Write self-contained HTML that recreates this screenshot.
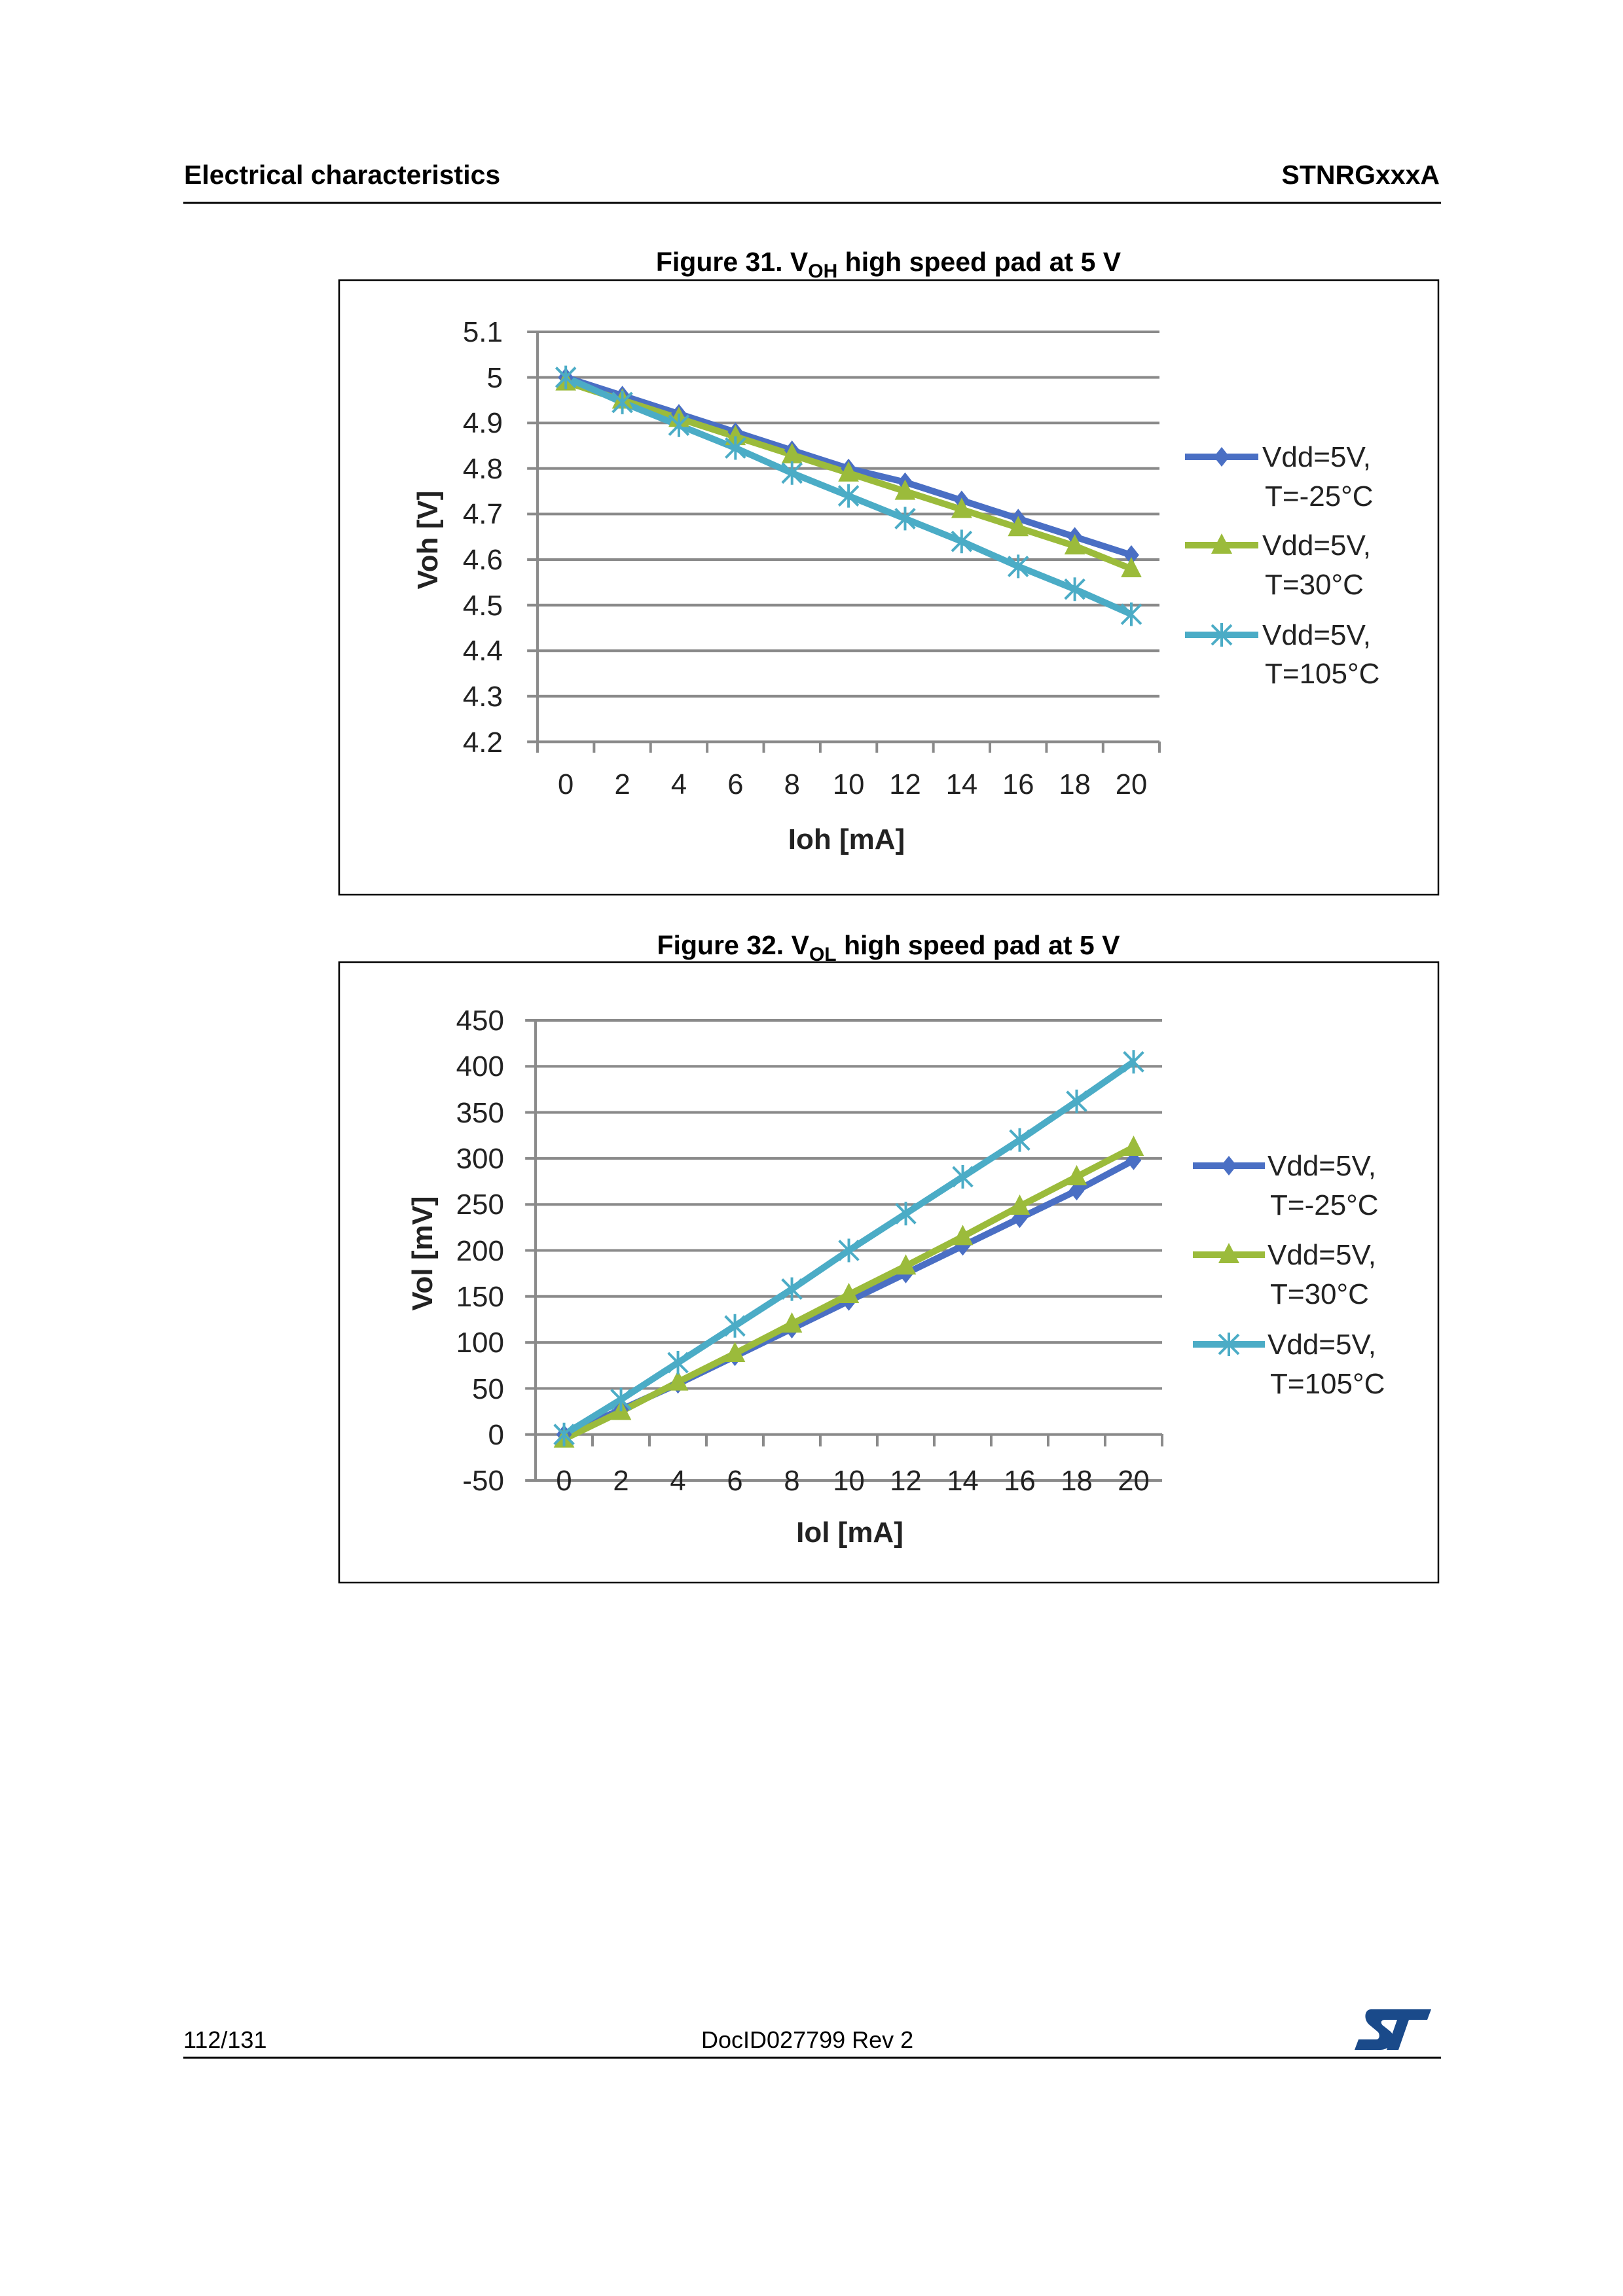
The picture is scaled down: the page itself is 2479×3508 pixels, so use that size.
<!DOCTYPE html>
<html><head><meta charset="utf-8"><style>
html,body{margin:0;padding:0;background:#fff}
svg{display:block}
.h{font-family:"Liberation Sans",Arial,sans-serif;font-weight:bold;font-size:41px;fill:#000}
.f{font-family:"Liberation Sans",Arial,sans-serif;font-size:36px;fill:#000}
.t{font-family:"Liberation Sans Narrow","Liberation Sans",sans-serif;font-size:44px;fill:#222}
.lb{font-family:"Liberation Sans",sans-serif;font-weight:bold;font-size:44px;fill:#222}
.g{stroke:#8a8a8a;stroke-width:4}
</style></head><body>
<svg width="2479" height="3508" viewBox="0 0 2479 3508" xmlns="http://www.w3.org/2000/svg">
<defs>
<path id="dm" d="M0,-15 L12,0 L0,15 L-12,0Z" fill="#4a6fc4"/>
<path id="tr" d="M0,-18 L16,13 L-16,13Z" fill="#9bbb3b"/>
<g id="st" stroke="#4bacc6" stroke-width="4"><path d="M-15,-15L15,15M-15,15L15,-15M0,-18V18"/></g>
</defs>
<text class="h" x="281" y="281">Electrical characteristics</text>
<text class="h" x="2199" y="281" text-anchor="end">STNRGxxxA</text>
<line x1="280" y1="310" x2="2201" y2="310" stroke="#000" stroke-width="3"/>

<!-- Figure 31 -->
<text class="h" x="1357" y="414" text-anchor="middle">Figure 31. V<tspan font-size="30" dy="10">OH</tspan><tspan dy="-10"> high speed pad at 5 V</tspan></text>
<rect x="518" y="428" width="1679" height="939" fill="none" stroke="#000" stroke-width="2.5"/>
<g transform="translate(821,0) scale(0.9906,1) translate(-821,0)">
<g class="g">
<line x1="805" y1="507" x2="1780" y2="507"/><line x1="805" y1="576.6" x2="1780" y2="576.6"/>
<line x1="805" y1="646.2" x2="1780" y2="646.2"/><line x1="805" y1="715.8" x2="1780" y2="715.8"/>
<line x1="805" y1="785.4" x2="1780" y2="785.4"/><line x1="805" y1="855" x2="1780" y2="855"/>
<line x1="805" y1="924.6" x2="1780" y2="924.6"/><line x1="805" y1="994.2" x2="1780" y2="994.2"/>
<line x1="805" y1="1063.8" x2="1780" y2="1063.8"/><line x1="805" y1="1133.4" x2="1780" y2="1133.4"/>
<line x1="821" y1="507" x2="821" y2="1150"/>
<path d="M908.2,1133V1150M995.4,1133V1150M1082.6,1133V1150M1169.8,1133V1150M1257,1133V1150M1344.2,1133V1150M1431.4,1133V1150M1518.6,1133V1150M1605.8,1133V1150M1693,1133V1150M1780,1133V1150"/>
</g>
<g class="t" text-anchor="middle">
<text x="864.6" y="1213">0</text><text x="951.8" y="1213">2</text><text x="1039" y="1213">4</text><text x="1126.2" y="1213">6</text><text x="1213.4" y="1213">8</text><text x="1300.6" y="1213">10</text><text x="1387.8" y="1213">12</text><text x="1475" y="1213">14</text><text x="1562.2" y="1213">16</text><text x="1649.4" y="1213">18</text><text x="1736.6" y="1213">20</text>
</g>
<g fill="none" stroke-width="10" stroke-linejoin="round">
<polyline stroke="#4a6fc4" points="864.6,576.6 951.8,604.4 1039,632.3 1126.2,660.1 1213.4,688 1300.6,715.8 1387.8,736.7 1475,764.5 1562.2,792.4 1649.4,820.2 1736.6,848"/>
<polyline stroke="#9bbb3b" points="864.6,583.6 951.8,611.4 1039,639.2 1126.2,667.1 1213.4,694.9 1300.6,722.8 1387.8,750.6 1475,778.4 1562.2,806.3 1649.4,834.1 1736.6,869"/>
<polyline stroke="#4bacc6" points="864.6,576.6 951.8,614.9 1039,649.7 1126.2,684.5 1213.4,722.8 1300.6,757.6 1387.8,792.4 1475,827.2 1562.2,865.4 1649.4,900.2 1736.6,938.5"/>
</g>
<g>
<use href="#dm" x="864.6" y="576.6"/><use href="#dm" x="951.8" y="604.4"/><use href="#dm" x="1039" y="632.3"/><use href="#dm" x="1126.2" y="660.1"/><use href="#dm" x="1213.4" y="688"/><use href="#dm" x="1300.6" y="715.8"/><use href="#dm" x="1387.8" y="736.7"/><use href="#dm" x="1475" y="764.5"/><use href="#dm" x="1562.2" y="792.4"/><use href="#dm" x="1649.4" y="820.2"/><use href="#dm" x="1736.6" y="848"/>
<use href="#tr" x="864.6" y="583.6"/><use href="#tr" x="951.8" y="611.4"/><use href="#tr" x="1039" y="639.2"/><use href="#tr" x="1126.2" y="667.1"/><use href="#tr" x="1213.4" y="694.9"/><use href="#tr" x="1300.6" y="722.8"/><use href="#tr" x="1387.8" y="750.6"/><use href="#tr" x="1475" y="778.4"/><use href="#tr" x="1562.2" y="806.3"/><use href="#tr" x="1649.4" y="834.1"/><use href="#tr" x="1736.6" y="869"/>
<use href="#st" x="864.6" y="576.6"/><use href="#st" x="951.8" y="614.9"/><use href="#st" x="1039" y="649.7"/><use href="#st" x="1126.2" y="684.5"/><use href="#st" x="1213.4" y="722.8"/><use href="#st" x="1300.6" y="757.6"/><use href="#st" x="1387.8" y="792.4"/><use href="#st" x="1475" y="827.2"/><use href="#st" x="1562.2" y="865.4"/><use href="#st" x="1649.4" y="900.2"/><use href="#st" x="1736.6" y="938.5"/>
</g>
</g>
<g class="t" text-anchor="end">
<text x="768" y="522">5.1</text><text x="768" y="592">5</text><text x="768" y="661">4.9</text><text x="768" y="731">4.8</text><text x="768" y="800">4.7</text><text x="768" y="870">4.6</text><text x="768" y="940">4.5</text><text x="768" y="1009">4.4</text><text x="768" y="1079">4.3</text><text x="768" y="1149">4.2</text>
</g>
<text class="lb" x="1293" y="1297" text-anchor="middle">Ioh [mA]</text>
<text class="lb" x="0" y="0" text-anchor="middle" transform="translate(668,825) rotate(-90)">Voh [V]</text>
<line x1="1810" y1="698" x2="1922" y2="698" stroke="#4a6fc4" stroke-width="10"/><use href="#dm" x="1866" y="698"/>
<line x1="1810" y1="833" x2="1922" y2="833" stroke="#9bbb3b" stroke-width="10"/><use href="#tr" x="1866" y="833"/>
<line x1="1810" y1="970" x2="1922" y2="970" stroke="#4bacc6" stroke-width="10"/><use href="#st" x="1866" y="970"/>
<g class="t">
<text x="1928" y="713">Vdd=5V,</text><text x="1932" y="773">T=-25°C</text>
<text x="1928" y="848">Vdd=5V,</text><text x="1932" y="908">T=30°C</text>
<text x="1928" y="985">Vdd=5V,</text><text x="1932" y="1044">T=105°C</text>
</g>

<!-- Figure 32 -->
<text class="h" x="1357" y="1458" text-anchor="middle">Figure 32. V<tspan font-size="30" dy="10">OL</tspan><tspan dy="-10"> high speed pad at 5 V</tspan></text>
<rect x="518" y="1470" width="1679" height="948" fill="none" stroke="#000" stroke-width="2.5"/>
<g transform="translate(818,0) scale(0.9897,1) translate(-818,0)">
<g class="g">
<line x1="802" y1="1559" x2="1785" y2="1559"/><line x1="802" y1="1629.3" x2="1785" y2="1629.3"/>
<line x1="802" y1="1699.6" x2="1785" y2="1699.6"/><line x1="802" y1="1769.9" x2="1785" y2="1769.9"/>
<line x1="802" y1="1840.2" x2="1785" y2="1840.2"/><line x1="802" y1="1910.5" x2="1785" y2="1910.5"/>
<line x1="802" y1="1980.8" x2="1785" y2="1980.8"/><line x1="802" y1="2051.1" x2="1785" y2="2051.1"/>
<line x1="802" y1="2121.4" x2="1785" y2="2121.4"/><line x1="802" y1="2191.7" x2="1785" y2="2191.7"/>
<line x1="802" y1="2262" x2="1785" y2="2262"/>
<line x1="818" y1="1559" x2="818" y2="2262"/>
<path d="M905.9,2191V2210M993.8,2191V2210M1081.7,2191V2210M1169.6,2191V2210M1257.5,2191V2210M1345.4,2191V2210M1433.3,2191V2210M1521.2,2191V2210M1609.1,2191V2210M1697,2191V2210M1785,2191V2210"/>
</g>
<g class="t" text-anchor="middle">
<text x="862" y="2277">0</text><text x="949.9" y="2277">2</text><text x="1037.8" y="2277">4</text><text x="1125.7" y="2277">6</text><text x="1213.6" y="2277">8</text><text x="1301.5" y="2277">10</text><text x="1389.4" y="2277">12</text><text x="1477.3" y="2277">14</text><text x="1565.2" y="2277">16</text><text x="1653.1" y="2277">18</text><text x="1741" y="2277">20</text>
</g>
<g fill="none" stroke-width="10" stroke-linejoin="round">
<polyline stroke="#4a6fc4" points="862,2191.7 949.9,2153.7 1037.8,2114.4 1125.7,2072.2 1213.6,2030 1301.5,1987.8 1389.4,1945.7 1477.3,1903.5 1565.2,1861.3 1653.1,1819.1 1741,1772.7"/>
<polyline stroke="#9bbb3b" points="862,2198.7 949.9,2156.6 1037.8,2111.6 1125.7,2068 1213.6,2023 1301.5,1978 1389.4,1934.4 1477.3,1889.4 1565.2,1843 1653.1,1798 1741,1753"/>
<polyline stroke="#4bacc6" points="862,2191.7 949.9,2138.3 1037.8,2082 1125.7,2025.8 1213.6,1969.6 1301.5,1910.5 1389.4,1854.3 1477.3,1798 1565.2,1741.8 1653.1,1682.7 1741,1622.3"/>
</g>
<g>
<use href="#dm" x="862" y="2191.7"/><use href="#dm" x="949.9" y="2153.7"/><use href="#dm" x="1037.8" y="2114.4"/><use href="#dm" x="1125.7" y="2072.2"/><use href="#dm" x="1213.6" y="2030"/><use href="#dm" x="1301.5" y="1987.8"/><use href="#dm" x="1389.4" y="1945.7"/><use href="#dm" x="1477.3" y="1903.5"/><use href="#dm" x="1565.2" y="1861.3"/><use href="#dm" x="1653.1" y="1819.1"/><use href="#dm" x="1741" y="1772.7"/>
<use href="#tr" x="862" y="2198.7"/><use href="#tr" x="949.9" y="2156.6"/><use href="#tr" x="1037.8" y="2111.6"/><use href="#tr" x="1125.7" y="2068"/><use href="#tr" x="1213.6" y="2023"/><use href="#tr" x="1301.5" y="1978"/><use href="#tr" x="1389.4" y="1934.4"/><use href="#tr" x="1477.3" y="1889.4"/><use href="#tr" x="1565.2" y="1843"/><use href="#tr" x="1653.1" y="1798"/><use href="#tr" x="1741" y="1753"/>
<use href="#st" x="862" y="2191.7"/><use href="#st" x="949.9" y="2138.3"/><use href="#st" x="1037.8" y="2082"/><use href="#st" x="1125.7" y="2025.8"/><use href="#st" x="1213.6" y="1969.6"/><use href="#st" x="1301.5" y="1910.5"/><use href="#st" x="1389.4" y="1854.3"/><use href="#st" x="1477.3" y="1798"/><use href="#st" x="1565.2" y="1741.8"/><use href="#st" x="1653.1" y="1682.7"/><use href="#st" x="1741" y="1622.3"/>
</g>
</g>
<g class="t" text-anchor="end">
<text x="770" y="1574">450</text><text x="770" y="1644">400</text><text x="770" y="1715">350</text><text x="770" y="1785">300</text><text x="770" y="1855">250</text><text x="770" y="1926">200</text><text x="770" y="1996">150</text><text x="770" y="2066">100</text><text x="770" y="2137">50</text><text x="770" y="2207">0</text><text x="770" y="2277">-50</text>
</g>
<text class="lb" x="1298" y="2356" text-anchor="middle">Iol [mA]</text>
<text class="lb" x="0" y="0" text-anchor="middle" transform="translate(660,1915) rotate(-90)">Vol [mV]</text>
<line x1="1822" y1="1781" x2="1932" y2="1781" stroke="#4a6fc4" stroke-width="10"/><use href="#dm" x="1877" y="1781"/>
<line x1="1822" y1="1917" x2="1932" y2="1917" stroke="#9bbb3b" stroke-width="10"/><use href="#tr" x="1877" y="1917"/>
<line x1="1822" y1="2054" x2="1932" y2="2054" stroke="#4bacc6" stroke-width="10"/><use href="#st" x="1877" y="2054"/>
<g class="t">
<text x="1936" y="1796">Vdd=5V,</text><text x="1940" y="1856">T=-25°C</text>
<text x="1936" y="1932">Vdd=5V,</text><text x="1940" y="1992">T=30°C</text>
<text x="1936" y="2069">Vdd=5V,</text><text x="1940" y="2129">T=105°C</text>
</g>

<!-- footer -->
<text class="f" x="280" y="3129">112/131</text>
<text class="f" x="1071" y="3129">DocID027799 Rev 2</text>
<line x1="280" y1="3144" x2="2201" y2="3144" stroke="#000" stroke-width="3"/>
<g fill="#1a4a8a" transform="translate(-16,-24)">
<path d="M2110,3094 L2202,3094 L2196,3110 L2168,3110 L2152,3156 L2134,3156 L2150,3110 L2132,3110 C2124,3110 2124,3116 2130,3120 L2140,3128 C2150,3138 2140,3156 2124,3156 L2085,3156 L2091,3140 L2118,3140 C2124,3140 2124,3131 2120,3128 L2108,3118 C2098,3110 2100,3094 2110,3094Z"/>
</g>
</svg>
</body></html>
